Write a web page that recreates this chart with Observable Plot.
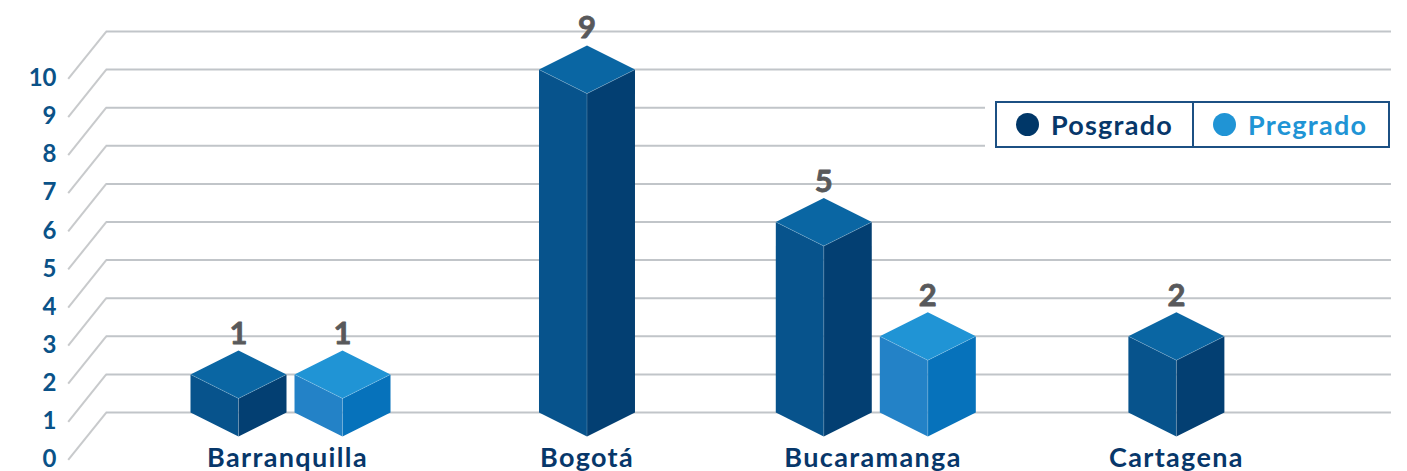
<!DOCTYPE html>
<html lang="es">
<head>
<meta charset="utf-8">
<script src="https://cdn.jsdelivr.net/npm/d3@7"></script>
<script src="https://cdn.jsdelivr.net/npm/@observablehq/plot@0.6"></script>
<style>
  html, body { margin: 0; padding: 0; background: #fff; overflow: hidden; }
  #chart { position: relative; width: 1407px; height: 471px; overflow: hidden; font-family: Lato, sans-serif; }
  #chart svg { display: block; }
  #chart svg g[aria-label^="x-axis"] text { letter-spacing: 1.35px; }
  #legend {
    position: absolute; left: 995px; top: 101px; width: 395px; height: 47px; box-sizing: border-box;
    display: flex; background: #fff; border: 2px solid #1c5083; outline: 10px solid #fff; clip-path: inset(-2px -12px -2px -10px);
    font-weight: 700; font-size: 27px; letter-spacing: 1.25px;
  }
  #legend div { display: flex; align-items: center; box-sizing: border-box; height: 100%; padding-left: 19px; }
  #legend div + div { border-left: 2px solid #1c5083; }
  #legend i { display: block; width: 23px; height: 23px; border-radius: 50%; margin-right: 12px; }
</style>
</head>
<body>
<div id="chart"></div>
<script>
// ---- data ----
const categories = ["Barranquilla", "Bogotá", "Bucaramanga", "Cartagena"];
const posgrado = [1, 9, 5, 2];
const pregrado = [1, null, 2, null];
const yTicks = [0, 1, 2, 3, 4, 5, 6, 7, 8, 9, 10];

// ---- layout in scale units (x: category spacing, y: value units) ----
const categoryCenters = [0, 1.005, 1.984, 3.003];
const labelCenters = [-0.0102, 1.005, 1.9746, 3.003];
const halfWidth = 0.1627, groupOffset = 0.1763, halfDepth = 0.63;
const wallLeft = -0.6247, floorLeft = -0.7536, wallRight = 3.732, floorDrop = 1.245;

const seriesStyles = {
  Posgrado: {top: "#0a66a3", left: "#07538c", right: "#033f72", dot: "#003768", text: "#07376a"},
  Pregrado: {top: "#2094d5", left: "#2382c7", right: "#0672bb", dot: "#2094d5", text: "#2094d5"}
};

// one record per bar
const bars = [];
categories.forEach((category, i) => {
  const both = posgrado[i] != null && pregrado[i] != null;
  if (posgrado[i] != null) bars.push({series: "Posgrado", value: posgrado[i], x: categoryCenters[i] - (both ? groupOffset : 0)});
  if (pregrado[i] != null) bars.push({series: "Pregrado", value: pregrado[i], x: categoryCenters[i] + (both ? groupOffset : 0)});
});

// polygons for the visible faces of each bar
const faces = [];
bars.forEach((b, id) => {
  const c = seriesStyles[b.series], l = b.x - halfWidth, r = b.x + halfWidth, v = b.value;
  const push = (face, fill, pts) => pts.forEach(([x, y]) => faces.push({z: `${id}-${face}`, fill, x, y}));
  push("left", c.left, [[l, 0], [l, v], [b.x, v - halfDepth], [b.x, -halfDepth]]);
  push("right", c.right, [[r, 0], [r, v], [b.x, v - halfDepth], [b.x, -halfDepth]]);
  push("top", c.top, [[l, v], [b.x, v + halfDepth], [r, v], [b.x, v - halfDepth]]);
});
const seams = bars.flatMap((b, id) => [
  {z: id + "a", x: b.x - halfWidth, y: b.value}, {z: id + "a", x: b.x, y: b.value - halfDepth},
  {z: id + "a", x: b.x + halfWidth, y: b.value},
  {z: id + "b", x: b.x, y: b.value - halfDepth}, {z: id + "b", x: b.x, y: -halfDepth}
]);

const chart = Plot.plot({
  width: 1407,
  height: 471,
  marginLeft: 60,
  marginRight: 0,
  marginTop: 0,
  marginBottom: 20,
  style: {fontFamily: "Lato, sans-serif", background: "#fff", overflow: "hidden"},
  x: {domain: [-0.7797, 3.7864]},
  y: {domain: [-1.0236, 10.814]},
  color: {type: "identity"},
  marks: [
    Plot.ruleY(yTicks, {x1: wallLeft, x2: wallRight, stroke: "#c1c5c9", strokeWidth: 2}),
    Plot.link(yTicks, {x1: floorLeft, y1: d => d - floorDrop, x2: wallLeft, y2: d => d, stroke: "#c8cacc", strokeWidth: 2}),
    Plot.line(faces, {x: "x", y: "y", z: "z", fill: "fill", stroke: null, curve: "linear-closed"}),
    Plot.line(seams, {x: "x", y: "y", z: "z", stroke: "#ffffff", strokeOpacity: 0.25, strokeWidth: 0.8}),
    Plot.axisY({ticks: yTicks, tickSize: 0, tickPadding: 4, dy: 47, label: null, anchor: "left",
      fontSize: 24, fontWeight: 700, fill: "#0a5288", tickFormat: d => String(d)}),
    Plot.axisX(labelCenters, {tickSize: 0, tickPadding: 0, label: null, anchor: "bottom",
      tickFormat: d => categories[labelCenters.indexOf(d)],
      fontSize: 27, fontWeight: 700, fill: "#07376a", lineAnchor: "top", dy: -4}),
    Plot.text(bars, {x: "x", y: d => d.value + halfDepth + (d.value === 9 ? 0.05 : 0), dy: -16, text: d => String(d.value),
      fontSize: 31, fontWeight: 700, fill: "#58595b", stroke: "#58595b", strokeWidth: 0.8})
  ]
});
document.getElementById("chart").append(chart);

// legend placed over the plot area
const legend = document.createElement("div");
legend.id = "legend";
Object.entries(seriesStyles).forEach(([name, s], i) => {
  const item = document.createElement("div");
  item.style.width = i === 0 ? "196px" : "197px";
  item.style.color = s.text;
  const dot = document.createElement("i");
  dot.style.background = s.dot;
  item.append(dot, name);
  legend.append(item);
});
document.getElementById("chart").append(legend);
</script>
</body>
</html>
